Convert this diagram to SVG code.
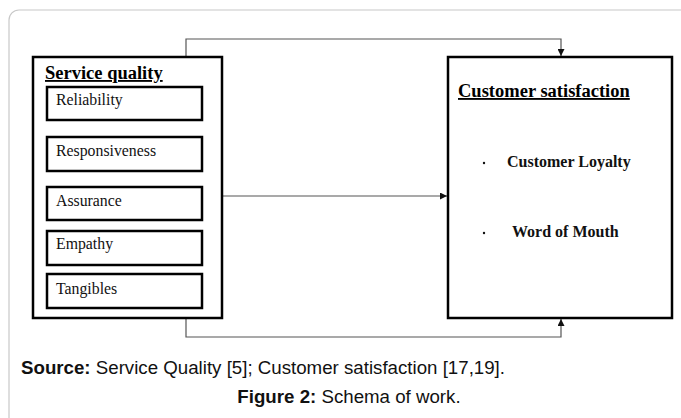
<svg xmlns="http://www.w3.org/2000/svg" width="681" height="418" viewBox="0 0 681 418">
  <defs>
    <marker id="arrow" viewBox="0 0 10 10" refX="10" refY="5" markerWidth="7" markerHeight="7" markerUnits="userSpaceOnUse" orient="auto">
      <path d="M0,0 L10,5 L0,10 Z" fill="#111"/>
    </marker>
    <style>
      .frame { fill: #fff; stroke: #c8c8c8; stroke-width: 1.2; }
      .box { fill: #fff; stroke: #000; stroke-width: 2.5; }
      .item { fill: #fff; stroke: #000; stroke-width: 2.5; }
      .conn { fill: none; stroke: #555; stroke-width: 1.2; }
      .head { font-family: "Liberation Serif", "Times New Roman", serif; font-weight: bold; font-size: 18.5px; fill: #000; text-decoration: underline; }
      .label { font-family: "Liberation Serif", "Times New Roman", serif; font-size: 15.8px; fill: #111; }
      .bold { font-family: "Liberation Serif", "Times New Roman", serif; font-weight: bold; font-size: 16px; fill: #111; }
      .dot { fill: #111; }
      .cap { font-family: "Liberation Sans", Arial, sans-serif; font-size: 18.7px; fill: #111; }
      .capb { font-weight: bold; }
    </style>
  </defs>

  <rect width="681" height="418" fill="#fff"/>
  <rect class="frame" x="9" y="10" width="700" height="440" rx="10" ry="10"/>

  <g id="connectors">
    <polyline class="conn" points="186,57 186,39 561,39 561,56" marker-end="url(#arrow)"/>
    <polyline class="conn" points="186,318 186,337 561,337 561,319" marker-end="url(#arrow)"/>
    <line class="conn" x1="222" y1="196" x2="447" y2="196" marker-end="url(#arrow)"/>
  </g>

  <g id="service-quality">
    <rect class="box" x="33" y="57" width="189" height="261"/>
    <text class="head" x="45" y="79">Service quality</text>
  </g>
  <g id="reliability">
    <rect class="item" x="47" y="87" width="155" height="33"/>
    <text class="label" x="56" y="105">Reliability</text>
  </g>
  <g id="responsiveness">
    <rect class="item" x="47" y="137" width="155" height="34"/>
    <text class="label" x="56" y="156">Responsiveness</text>
  </g>
  <g id="assurance">
    <rect class="item" x="47" y="187" width="155" height="33"/>
    <text class="label" x="56" y="206">Assurance</text>
  </g>
  <g id="empathy">
    <rect class="item" x="47" y="231" width="155" height="34"/>
    <text class="label" x="56" y="249">Empathy</text>
  </g>
  <g id="tangibles">
    <rect class="item" x="47" y="274" width="155" height="34"/>
    <text class="label" x="56" y="294">Tangibles</text>
  </g>

  <g id="customer-satisfaction">
    <rect class="box" x="448" y="57" width="224" height="261"/>
    <text class="head" x="458" y="97">Customer satisfaction</text>
    <circle class="dot" cx="484" cy="163" r="1.2"/>
    <text class="bold" x="507" y="167">Customer Loyalty</text>
    <circle class="dot" cx="484" cy="233" r="1.2"/>
    <text class="bold" x="512" y="237">Word of Mouth</text>
  </g>

  <g id="caption">
    <text class="cap" x="21" y="374"><tspan class="capb">Source:</tspan> Service Quality [5]; Customer satisfaction [17,19].</text>
    <text class="cap" x="349" y="403" text-anchor="middle"><tspan class="capb">Figure 2:</tspan> Schema of work.</text>
  </g>
</svg>
